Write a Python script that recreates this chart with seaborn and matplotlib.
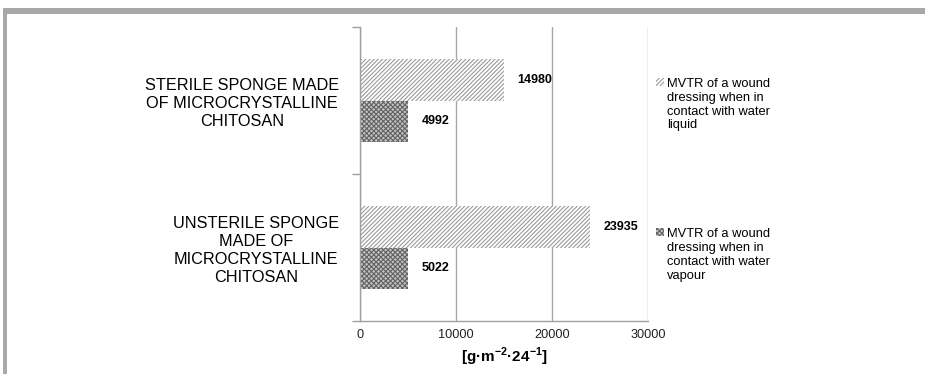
import pandas as pd
import matplotlib
matplotlib.use("Agg")
import matplotlib.pyplot as plt
import seaborn as sns
from matplotlib.patches import Patch, Rectangle

# Datos
categorias = [
    "STERILE SPONGE MADE\nOF MICROCRYSTALLINE\nCHITOSAN",
    "UNSTERILE SPONGE\nMADE OF\nMICROCRYSTALLINE\nCHITOSAN",
]
series = [
    "MVTR of a wound\ndressing when in\ncontact with water\nliquid",
    "MVTR of a wound\ndressing when in\ncontact with water\nvapour",
]
valores_liquido = [14980, 23935]
valores_vapor = [4992, 5022]
ticks_x = [0, 10000, 20000, 30000]

df = pd.DataFrame({
    "categoria": categorias * 2,
    "serie": [series[0]] * 2 + [series[1]] * 2,
    "valor": valores_liquido + valores_vapor,
})

sns.set_theme(style="white")
plt.rcParams["font.family"] = ["Liberation Sans", "DejaVu Sans"]
plt.rcParams["mathtext.fontset"] = "custom"
plt.rcParams["mathtext.bf"] = "Liberation Sans:bold"
plt.rcParams["mathtext.rm"] = "Liberation Sans"
plt.rcParams["hatch.linewidth"] = 0.8
plt.rcParams["text.color"] = "black"

fig = plt.figure(figsize=(9.25, 3.74), dpi=100)
ax = fig.add_axes([360 / 925, 1 - 321 / 374, 288 / 925, 294 / 374])

sns.barplot(data=df, y="categoria", x="valor", hue="serie",
            order=categorias, hue_order=series, orient="h",
            width=0.57, ax=ax, legend=False)

estilos = [
    dict(facecolor="white", edgecolor="#9a9a9a", hatch="////////"),
    dict(facecolor="#c4c4c4", edgecolor="#626262", hatch="xxxxxxx"),
]
for cont, est in zip(ax.containers, estilos):
    for barra in cont:
        barra.set_facecolor(est["facecolor"])
        barra.set_edgecolor(est["edgecolor"])
        barra.set_hatch(est["hatch"])
        barra.set_linewidth(0)
    ax.bar_label(cont, padding=10, fontsize=9, fontweight="bold", color="black")

# Ejes
ax.set_xlim(0, 30000)
ax.set_ylim(1.5, -0.5)
ax.set_xticks(ticks_x)
ax.set_xticklabels([str(t) for t in ticks_x], fontsize=9.2)
ax.tick_params(axis="x", length=0, pad=6, labelcolor="#222222")
ax.tick_params(axis="y", which="major", length=0, pad=15, labelsize=11.7,
               labelcolor="black")
for lbl in ax.get_yticklabels():
    lbl.set_multialignment("center")
    lbl.set_linespacing(1.25)
ax.set_yticks([-0.5, 0.5, 1.5], minor=True)
ax.tick_params(axis="y", which="minor", length=6, color="#a0a0a0", width=1, left=True)
ax.grid(axis="x", color="#a6a6a6", linewidth=1)
ax.set_axisbelow(True)
for lado in ["top", "right"]:
    ax.spines[lado].set_visible(False)
for lado in ["left", "bottom"]:
    ax.spines[lado].set_color("#a0a0a0")
    ax.spines[lado].set_linewidth(1)
ax.set_ylabel("")
ax.set_xlabel(r"[g·m$^{\mathbf{-2}}$·24$^{\mathbf{-1}}$]", fontsize=11,
              fontweight="bold", labelpad=3, color="black")

# Leyenda
handles = [Patch(facecolor=e["facecolor"], edgecolor=e["edgecolor"],
                 hatch=e["hatch"], linewidth=0) for e in estilos]
leg = ax.legend(handles, series, loc="upper left",
                bbox_to_anchor=(656 / 925, 1 - 78 / 374), bbox_transform=fig.transFigure,
                frameon=False, fontsize=9.3, labelspacing=7.5, handlelength=0.6,
                handleheight=0.6, handletextpad=0.25, borderaxespad=0, borderpad=0)
# marcador alineado con la primera linea del texto
for col in leg._legend_handle_box.get_children():
    for fila in col.get_children():
        fila.align = "top"

# Marco gris
fig.add_artist(Rectangle((3 / 925, 1 - 14 / 374), 1, 6 / 374,
                         transform=fig.transFigure, facecolor="#a8a8aa", edgecolor="none"))
fig.add_artist(Rectangle((3 / 925, 0), 4 / 925, 1 - 8 / 374,
                         transform=fig.transFigure, facecolor="#a8a8aa", edgecolor="none"))

fig.savefig("out.png", dpi=100)
